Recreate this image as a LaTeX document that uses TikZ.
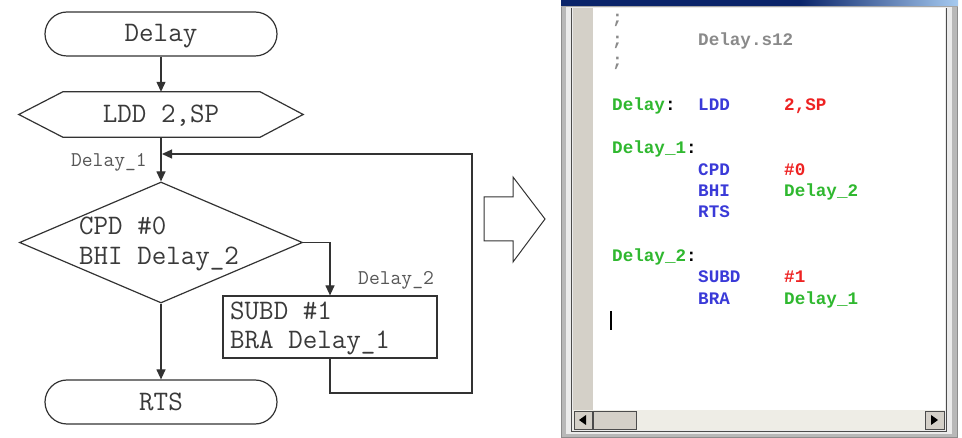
\documentclass[tikz,border=0pt]{standalone}
\usepackage{fontspec}
\newfontfamily\codefont{Liberation Mono}
\usetikzlibrary{arrows.meta,shapes.geometric,calc}
\definecolor{ink}{HTML}{333333}
\definecolor{txt}{HTML}{3A3A3A}
\definecolor{cgreen}{HTML}{2FB82F}
\definecolor{cblue}{HTML}{3A3AD8}
\definecolor{cred}{HTML}{EE2222}
\definecolor{cgray}{HTML}{8A8A8A}
\definecolor{frame}{HTML}{B8B8B8}
\definecolor{gutter}{HTML}{D4D0C8}
\definecolor{sbar}{HTML}{EEEDE6}
\definecolor{tbdark}{HTML}{0A246A}
\definecolor{tblight}{HTML}{A6CAF0}
\begin{document}
\begin{tikzpicture}[x=1pt,y=-1pt,
  line/.style={draw=ink, line width=1.2pt},
  arr/.style={line, -{Triangle[length=10pt,width=9pt]}},
  big/.style={font=\ttfamily\fontsize{28.2}{32}\selectfont, text=txt},
  small/.style={font=\ttfamily\fontsize{21}{24}\selectfont, text=txt!85},
  term/.style={line, rounded corners=22pt, minimum width=232pt, minimum height=44pt, inner sep=0pt},
  code/.style={anchor=base west, inner sep=0pt, font=\codefont\bfseries\fontsize{17.6}{20}\selectfont},
  btn/.style={fill=gutter, draw=black!70, line width=0.8pt}
]
\useasboundingbox (0,0) rectangle (962,438);
\fill[white] (0,0) rectangle (962,438);

% ---------- flowchart ----------
\node[term] (start) at (161,34) {};
\node[big, anchor=base, inner sep=0pt] (startt) at (161,42) {Delay};
\node[minimum width=284pt, minimum height=45pt, inner sep=0pt] (hex) at (161,114.5) {};
\draw[line] (hex.west) -- ([xshift=44pt]hex.north west) -- ([xshift=-43pt]hex.north east)
  -- (hex.east) -- ([xshift=-43pt]hex.south east) -- ([xshift=44pt]hex.south west) -- cycle;
\node[big, anchor=base, inner sep=0pt] (hext) at (161,122.5) {LDD 2,SP};
\node[line, diamond, minimum width=283pt, minimum height=121pt, inner sep=0pt] (dia) at (161,242.5) {};
\node[big, anchor=base west, inner sep=0pt] (d1) at (79,234.5) {CPD \#0};
\node[big, anchor=base west, inner sep=0pt] (d2) at (79,264.5) {BHI Delay\_2};
\node[line, minimum width=214pt, minimum height=62pt, inner sep=0pt] (box) at (330,327) {};
\node[big, anchor=base west, inner sep=0pt] (b1) at (230,320) {SUBD \#1};
\node[big, anchor=base west, inner sep=0pt] (b2) at (230,349) {BRA Delay\_1};
\node[term] (rts) at (161,402) {};
\node[big, anchor=base, inner sep=0pt] (rtst) at (161,410) {RTS};
\node[small, anchor=base east, inner sep=0pt] (l1) at (147,167) {Delay\_1};
\node[small, anchor=base west, inner sep=0pt] (l2) at (358,285) {Delay\_2};

\coordinate (j1) at (162,154);
\coordinate (lb) at (330,393);
\coordinate (rb) at (472,393);
\coordinate (rt) at (472,154);

\draw[arr] (start) -- (hex);
\draw[arr] (hex) -- (dia.north);
\draw[arr] (dia.east) -| (box.north);
\draw[arr] (dia.south) -- (rts.north);
\draw[arr] (box.south) -- (lb) -- (rb) -- (rt) -- (j1);

% ---------- hollow arrow ----------
\draw[draw=ink, line width=1pt, fill=white] (484,197) -- (513,197) -- (513,177) -- (545,219)
  -- (513,262) -- (513,241) -- (484,241) -- cycle;

% ---------- editor window ----------
\fill[frame] (561,0) rectangle (958,438);
\draw[black!45, line width=1pt] (561.5,0) -- (561.5,437.5) -- (957.5,437.5) -- (957.5,0);
\fill[black!8] (566,6) rectangle (952,434);
\shade[left color=tbdark, right color=tbdark, middle color=tbdark] (561,0) rectangle (800,6);
\shade[left color=tbdark, right color=tblight] (800,0) rectangle (958,6);
\fill[black!35] (561,6) rectangle (958,7.5);
\fill[white] (573,8) rectangle (945,410);
\fill[gutter] (573,8) rectangle (593,410);
\fill[sbar] (573,410) rectangle (945,430);
\draw[black!70, line width=1.5pt] (571.5,8) -- (571.5,431.5) -- (946.5,431.5) -- (946.5,8);
% scroll bar
\draw[btn] (574,411) rectangle (592,429);
\fill[black] (579,420) -- (586,415) -- (586,425) -- cycle;
\draw[btn] (593,411) rectangle (636,429);
\draw[btn] (925,411) rectangle (944,429);
\fill[black] (938,420) -- (931,415) -- (931,425) -- cycle;

% code
\node[code, text=cgray] (c1) at (612,24) {;};
\node[code, text=cgray] (c2) at (612,46) {;};
\node[code, text=cgray] (c2b) at (698,46) {Delay.s12};
\node[code, text=cgray] (c3) at (612,67) {;};
\node[code, text=cgreen] (c5a) at (612,110.5) {Delay\textcolor{black}{:}};
\node[code, text=cblue] (c5b) at (698,110.5) {LDD};
\node[code, text=cred] (c5c) at (784,110.5) {2,SP};
\node[code, text=cgreen] (c7) at (612,153.5) {Delay\_1\textcolor{black}{:}};
\node[code, text=cblue] (c8a) at (698,175.5) {CPD};
\node[code, text=cred] (c8b) at (784,175.5) {\#0};
\node[code, text=cblue] (c9a) at (698,196.5) {BHI};
\node[code, text=cgreen] (c9b) at (784,196.5) {Delay\_2};
\node[code, text=cblue] (c10) at (698,217.5) {RTS};
\node[code, text=cgreen] (c12) at (612,261.5) {Delay\_2\textcolor{black}{:}};
\node[code, text=cblue] (c13a) at (698,282.5) {SUBD};
\node[code, text=cred] (c13b) at (784,282.5) {\#1};
\node[code, text=cblue] (c14a) at (698,304.5) {BRA};
\node[code, text=cgreen] (c14b) at (784,304.5) {Delay\_1};
\draw[black, line width=1.5pt] (611,311) -- (611,330);
\end{tikzpicture}
\end{document}
